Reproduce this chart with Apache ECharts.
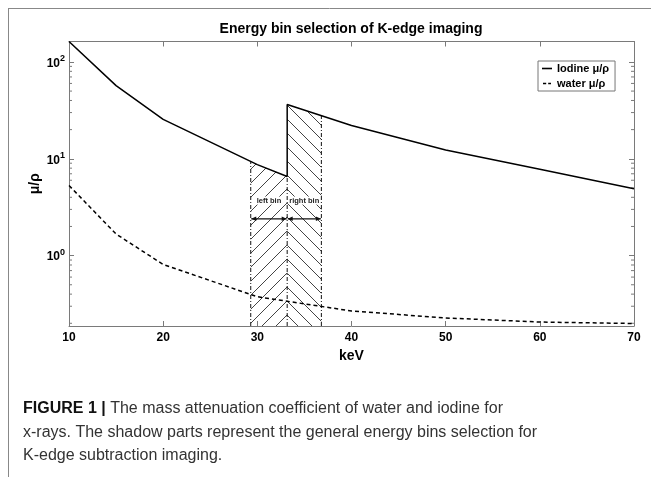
<!DOCTYPE html>
<html><head><meta charset="utf-8">
<script src="https://cdn.jsdelivr.net/npm/echarts@6/dist/echarts.min.js"></script>
<style>html,body{margin:0;padding:0;background:#fff}#c{width:651px;height:477px}</style>
</head><body><div id="c"></div>
<script>
// ---- data ----
const energyIodine = [10, 15, 20, 30, 33.17, 33.17, 40, 50, 60, 70];
const iodineMuRho  = [162.6, 57, 25.5, 8.7, 6.55, 36.33, 22.1, 12.3, 7.8, 4.9];
const energyWater  = [10, 15, 20, 30, 40, 50, 60, 70];
const waterMuRho   = [5.3, 1.67, 0.81, 0.376, 0.268, 0.227, 0.206, 0.199];
const xTickValues  = [10, 20, 30, 40, 50, 60, 70];
const yMinorTicks  = [0.2, 0.3, 0.4, 0.5, 0.6, 0.7, 0.8, 0.9, 2, 3, 4, 5, 6, 7, 8, 9, 20, 30, 40, 50, 60, 70, 80, 90];
const binEdges     = [29.3, 33.17, 36.8];
const binLabels    = ['left bin', 'right bin'];
const arrowLevel   = 2.4;
const binLabelLevel = 3.7;
const yMin = 0.1875, yMax = 162.6;
const xMin = 10, xMax = 70;
const seriesNames = ['Iodine μ/ρ', 'water μ/ρ'];
const captionBold = 'FIGURE 1 |';
const captionLines = [
  ' The mass attenuation coefficient of water and iodine for',
  'x-rays. The shadow parts represent the general energy bins selection for',
  'K-edge subtraction imaging.'
];

// ---- helpers ----
function hatch(dir) {
  const s = 14;
  const c = document.createElement('canvas');
  c.width = c.height = s;
  const g = c.getContext('2d');
  g.strokeStyle = '#444'; g.lineWidth = 1;
  g.beginPath();
  if (dir > 0) {
    g.moveTo(0, s); g.lineTo(s, 0);
    g.moveTo(-s, s); g.lineTo(s, -s);
    g.moveTo(0, 2 * s); g.lineTo(2 * s, 0);
  } else {
    g.moveTo(0, 0); g.lineTo(s, s);
    g.moveTo(-s, 0); g.lineTo(s, 2 * s);
    g.moveTo(0, -s); g.lineTo(2 * s, s);
  }
  g.stroke();
  return c;
}
const patterns = [hatch(1), hatch(-1)];

function iodinePx(api) {
  return energyIodine.map((e, i) => api.coord([e, iodineMuRho[i]]));
}
function topPath(api, x0, x1) {
  const P = iodinePx(api);
  const px0 = api.coord([x0, yMin])[0], px1 = api.coord([x1, yMin])[0];
  const out = [];
  for (let i = 0; i < P.length - 1; i++) {
    const a = P[i], b = P[i + 1];
    if (b[0] - a[0] < 1e-6) continue;
    const lo = Math.max(a[0], px0), hi = Math.min(b[0], px1);
    if (hi - lo < 1e-6) continue;
    const f = x => a[1] + (b[1] - a[1]) * (x - a[0]) / (b[0] - a[0]);
    const p1 = [lo, f(lo)], p2 = [hi, f(hi)];
    if (!out.length || Math.abs(out[out.length - 1][0] - p1[0]) > 1e-6) out.push(p1);
    out.push(p2);
  }
  return out;
}
function topAt(api, x) {
  const P = iodinePx(api);
  const px = api.coord([x, yMin])[0];
  let best = null;
  for (let i = 0; i < P.length - 1; i++) {
    const a = P[i], b = P[i + 1];
    if (b[0] - a[0] < 1e-6) continue;
    if (px >= a[0] - 1e-6 && px <= b[0] + 1e-6) {
      const y = a[1] + (b[1] - a[1]) * (px - a[0]) / (b[0] - a[0]);
      if (best === null || y > best) best = y;
    }
  }
  return best;
}
function isPow10(v) {
  const l = Math.log10(v);
  return Math.abs(l - Math.round(l)) < 1e-6;
}

const axisGray = '#7a7a7a';
const font = 'Liberation Sans, Arial';
const bins = binEdges.slice(0, -1).map((e, i) => [e, binEdges[i + 1], i]);

const chart = echarts.init(document.getElementById('c'), null, {renderer: 'canvas'});
chart.setOption({
  animation: false,
  backgroundColor: '#fff',
  title: {
    text: 'Energy bin selection of K-edge imaging',
    left: 351, top: 22, textAlign: 'center', padding: 0,
    textStyle: {fontFamily: font, fontWeight: 'bold', fontSize: 14, color: '#000'}
  },
  grid: {left: 69, right: 17, top: 41.5, bottom: 151},
  legend: {
    data: [
      {name: seriesNames[0], icon: 'rect'},
      {name: seriesNames[1], icon: 'path://M0,0h4v2h-4zM6.5,0h3.5v2h-3.5z'}
    ],
    orient: 'vertical',
    left: 538, top: 61,
    padding: [1, 6, 1, 4],
    itemGap: 2,
    itemWidth: 10, itemHeight: 1.6,
    borderColor: '#777', borderWidth: 1,
    backgroundColor: '#fff',
    itemStyle: {color: '#000', borderWidth: 0},
    textStyle: {fontFamily: font, fontWeight: 'bold', fontSize: 11, color: '#000', lineHeight: 13}
  },
  xAxis: [{
    type: 'value', min: xMin, max: xMax, interval: 10,
    name: 'keV', nameLocation: 'middle', nameGap: 22,
    nameTextStyle: {fontFamily: font, fontWeight: 'bold', fontSize: 14, color: '#000'},
    axisLine: {show: true, lineStyle: {color: axisGray, width: 1}},
    axisTick: {show: true, inside: true, length: 5, lineStyle: {color: axisGray}},
    axisLabel: {margin: 6, fontFamily: font, fontWeight: 'bold', fontSize: 12, color: '#000',
      formatter: v => xTickValues.indexOf(v) >= 0 ? String(v) : ''},
    splitLine: {show: false}
  }, {
    type: 'value', min: xMin, max: xMax, interval: 10, position: 'top',
    axisLine: {show: true, lineStyle: {color: axisGray, width: 1}},
    axisTick: {show: true, inside: true, length: 5, lineStyle: {color: axisGray}},
    axisLabel: {show: false}, splitLine: {show: false}
  }],
  yAxis: [{
    type: 'log', logBase: 10, min: yMin, max: yMax,
    name: 'μ/ρ', nameLocation: 'middle', nameGap: 27, nameRotate: 90, nameMoveOverlap: false,
    nameTextStyle: {fontFamily: font, fontWeight: 'bold', fontSize: 14, color: '#000'},
    axisLine: {show: true, lineStyle: {color: axisGray, width: 1}},
    axisTick: {show: true, inside: true, length: 5, lineStyle: {color: axisGray}},
    axisLabel: {
      margin: 4, color: '#000',
      formatter: v => isPow10(v) ? '{b|10}{s|' + Math.round(Math.log10(v)) + '}' : '',
      rich: {
        b: {fontFamily: font, fontWeight: 'bold', fontSize: 12, color: '#000', verticalAlign: 'bottom', lineHeight: 15},
        s: {fontFamily: font, fontWeight: 'bold', fontSize: 9, color: '#000', verticalAlign: 'top', lineHeight: 10}
      }
    },
    splitLine: {show: false}
  }, {
    type: 'log', logBase: 10, min: yMin, max: yMax, position: 'right',
    axisLine: {show: true, lineStyle: {color: axisGray, width: 1}},
    axisTick: {show: true, inside: true, length: 5, lineStyle: {color: axisGray}},
    axisLabel: {show: false}, splitLine: {show: false}
  }],
  series: [
    {
      type: 'custom', name: 'hatch', silent: true, z: 1,
      data: bins,
      renderItem: (params, api) => {
        const x0 = api.value(0), x1 = api.value(1), idx = api.value(2);
        const top = topPath(api, x0, x1);
        const pts = top.concat([api.coord([x1, yMin]), api.coord([x0, yMin])]);
        return {type: 'polygon', shape: {points: pts},
          style: {fill: {image: patterns[idx], repeat: 'repeat'}, stroke: null}};
      }
    },
    {
      type: 'custom', name: 'edges', silent: true, z: 3,
      data: binEdges.map(e => [e, 1]),
      renderItem: (params, api) => {
        const x = api.value(0);
        const b = api.coord([x, yMin]);
        const t = topAt(api, x);
        return {type: 'line', shape: {x1: b[0], y1: b[1], x2: b[0], y2: t},
          style: {stroke: '#111', lineWidth: 1, lineDash: [4, 2, 1, 2]}};
      }
    },
    {
      type: 'custom', name: 'arrows', silent: true, z: 4,
      data: bins,
      renderItem: (params, api) => {
        const x0 = api.value(0), x1 = api.value(1), idx = api.value(2);
        const a = api.coord([x0, arrowLevel]), b = api.coord([x1, arrowLevel]);
        const m = api.coord([(x0 + x1) / 2, binLabelLevel]);
        const h = 5, w = 2.2, pad = 0.5;
        return {type: 'group', children: [
          {type: 'line', shape: {x1: a[0] + pad, y1: a[1], x2: b[0] - pad, y2: b[1]}, style: {stroke: '#111', lineWidth: 1.2}},
          {type: 'polygon', shape: {points: [[a[0] + pad, a[1]], [a[0] + pad + h, a[1] - w], [a[0] + pad + h, a[1] + w]]}, style: {fill: '#111'}},
          {type: 'polygon', shape: {points: [[b[0] - pad, b[1]], [b[0] - pad - h, b[1] - w], [b[0] - pad - h, b[1] + w]]}, style: {fill: '#111'}},
          {type: 'text', x: m[0], y: m[1], style: {text: binLabels[idx], align: 'center', verticalAlign: 'middle',
            fontFamily: font, fontWeight: 'bold', fontSize: 7.5, fill: '#222', backgroundColor: '#fff'}}
        ]};
      }
    },
    {
      type: 'custom', name: 'minorTicks', silent: true, z: 5,
      data: yMinorTicks.map(v => [xMin, v]),
      renderItem: (params, api) => {
        const v = api.value(1);
        const l = api.coord([xMin, v]), r = api.coord([xMax, v]);
        return {type: 'group', children: [
          {type: 'line', shape: {x1: l[0], y1: l[1], x2: l[0] + 3, y2: l[1]}, style: {stroke: axisGray, lineWidth: 1}},
          {type: 'line', shape: {x1: r[0] - 3, y1: r[1], x2: r[0], y2: r[1]}, style: {stroke: axisGray, lineWidth: 1}}
        ]};
      }
    },
    {
      type: 'line', name: seriesNames[0], z: 6,
      data: energyIodine.map((e, i) => [e, iodineMuRho[i]]),
      symbol: 'none', lineStyle: {color: '#000', width: 1.5}, itemStyle: {color: '#000'}
    },
    {
      type: 'line', name: seriesNames[1], z: 6,
      data: energyWater.map((e, i) => [e, waterMuRho[i]]),
      symbol: 'none', lineStyle: {color: '#000', width: 1.5, type: [4, 3]}, itemStyle: {color: '#000'}
    }
  ],
  graphic: [
    {type: 'line', silent: true, shape: {x1: 8, y1: 8.5, x2: 651, y2: 8.5}, style: {stroke: '#888', lineWidth: 1}},
    {type: 'line', silent: true, shape: {x1: 8.5, y1: 8, x2: 8.5, y2: 477}, style: {stroke: '#888', lineWidth: 1}},
    {type: 'text', silent: true, left: 23, top: 401,
      style: {
        text: '{b|' + captionBold + '}{r|' + captionLines[0] + '}\n{r|' + captionLines[1] + '}\n{r|' + captionLines[2] + '}',
        rich: {
          b: {fontFamily: font, fontWeight: 'bold', fontSize: 16, fill: '#111', lineHeight: 23.5},
          r: {fontFamily: font, fontSize: 16, fill: '#333', lineHeight: 23.5}
        }
      }
    }
  ]
});
</script></body></html>
